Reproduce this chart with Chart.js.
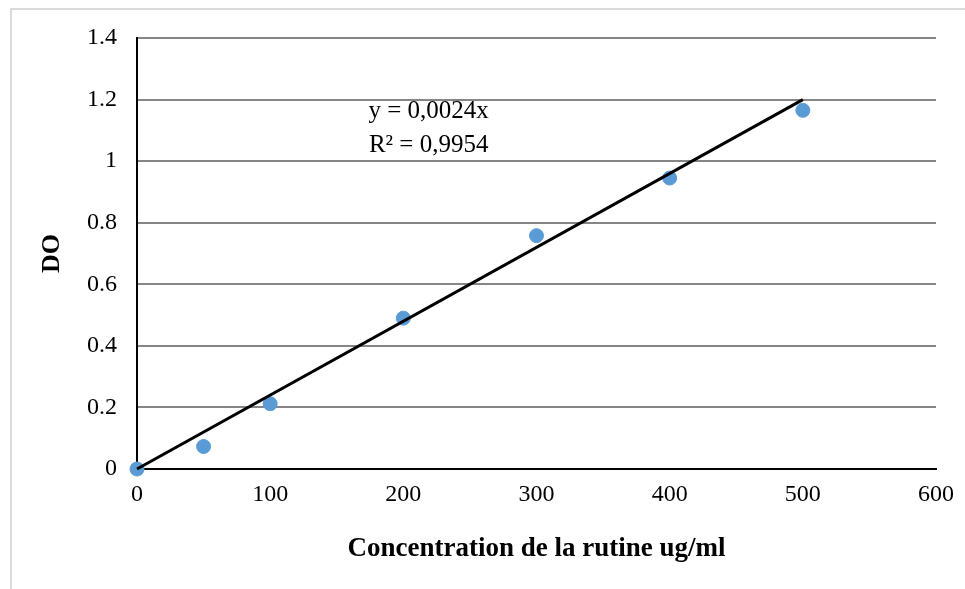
<!DOCTYPE html>
<html>
<head>
<meta charset="utf-8">
<script src="https://cdn.jsdelivr.net/npm/chart.js@4"></script>
<style>
  body { margin: 0; background: #fff; }
  #frame { position: absolute; left: 10px; top: 8px; width: 1000px; height: 700px; border: 2px solid #d9d9d9; }
  #wrap { position: absolute; left: 0; top: 0; width: 965px; height: 589px; }
</style>
</head>
<body>
<div id="frame"></div>
<div id="wrap"><canvas id="myChart"></canvas></div>
<script>
const concentrations = [0, 50, 100, 200, 300, 400, 500];
const absorbance = [0, 0.073, 0.212, 0.49, 0.758, 0.945, 1.165];
const trendX = [0, 500];
const trendY = [0, 1.2];
const equationLines = ['y = 0,0024x', 'R² = 0,9954'];
const labelAt = { x: 219, y: [1.163, 1.052] };

const serif = "'Liberation Serif', 'Times New Roman', serif";

const equationLabel = {
  id: 'equationLabel',
  afterDatasetsDraw(chart) {
    const ctx = chart.ctx;
    const xs = chart.scales.x;
    const ys = chart.scales.y;
    ctx.save();
    ctx.font = '25px ' + serif;
    ctx.fillStyle = '#000';
    ctx.textAlign = 'center';
    ctx.textBaseline = 'middle';
    for (let i = 0; i < equationLines.length; i++) {
      ctx.fillText(equationLines[i], xs.getPixelForValue(labelAt.x), ys.getPixelForValue(labelAt.y[i]));
    }
    ctx.restore();
  }
};

const data = {
  datasets: [{
    type: 'line',
    label: 'Linéaire',
    data: trendX.map((x, i) => ({ x: x, y: trendY[i] })),
    borderColor: '#000',
    borderWidth: 3,
    pointRadius: 0,
    fill: false,
    clip: false,
    order: 1
  }, {
    type: 'scatter',
    label: 'DO',
    data: concentrations.map((c, i) => ({ x: c, y: absorbance[i] })),
    backgroundColor: '#5b9bd5',
    borderColor: '#5b9bd5',
    pointRadius: 7,
    clip: false,
    order: 2
  }]
};

const config = {
  type: 'scatter',
  data: data,
  options: {
    responsive: true,
    maintainAspectRatio: false,
    animation: false,
    layout: { padding: { left: 10, top: 38, right: 25, bottom: 0 } },
    plugins: { legend: { display: false }, tooltip: { enabled: false } },
    scales: {
      x: {
        type: 'linear',
        min: 0, max: 600,
        ticks: { stepSize: 100, color: '#000', padding: 11, font: { family: serif, size: 24 } },
        grid: { display: false, drawTicks: false },
        border: { color: '#000', width: 2 },
        title: { display: true, text: 'Concentration de la rutine ug/ml', color: '#000', padding: { top: 4, bottom: 24 }, font: { family: serif, size: 27, weight: 'bold' } },
        afterFit(scale) { scale.height = 120; }
      },
      y: {
        min: 0, max: 1.4,
        ticks: {
          stepSize: 0.2, color: '#000', padding: 20, font: { family: serif, size: 24 },
          callback: v => String(+v.toFixed(1))
        },
        grid: { color: '#868686', lineWidth: 2, drawTicks: false },
        border: { color: '#000', width: 2 },
        title: { display: true, text: 'DO', color: '#000', padding: { top: 27, bottom: 0 }, font: { family: serif, size: 26, weight: 'bold' } },
        afterFit(scale) { scale.width = 127; }
      }
    }
  },
  plugins: [equationLabel]
};

let myChart = new Chart(document.getElementById('myChart'), config);
</script>
</body>
</html>
